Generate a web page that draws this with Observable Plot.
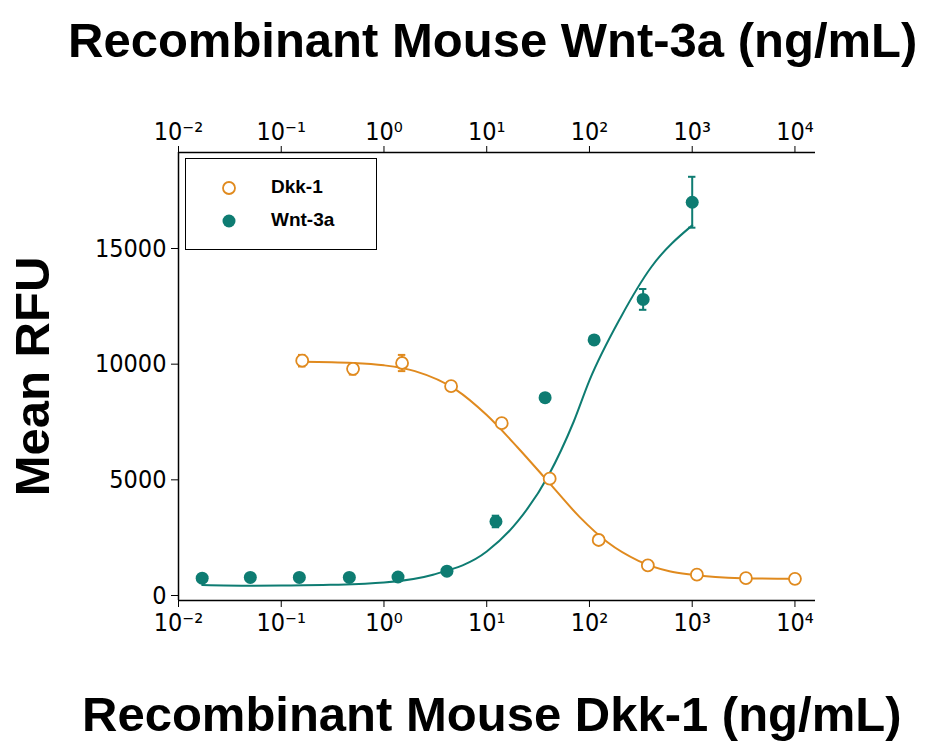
<!DOCTYPE html>
<html><head><meta charset="utf-8">
<script src="https://cdn.jsdelivr.net/npm/d3@7"></script>
<script src="https://cdn.jsdelivr.net/npm/@observablehq/plot@0.6"></script>
<style>
body{margin:0;background:#fff;}
#wrap{position:relative;width:936px;height:749px;font-family:"Liberation Sans",Arial,sans-serif;overflow:hidden;}
.t{position:absolute;font-weight:bold;font-size:49px;color:#000;white-space:nowrap;line-height:1;}
#legend{position:absolute;left:185px;top:158px;width:190px;height:90px;border:1px solid #000;background:#fff;font-weight:bold;font-size:19px;}
#legend div{position:absolute;left:85px;}
</style></head><body>
<div id="wrap">
<div id="chart"></div>
<div class="t" style="left:68px;top:16px;">Recombinant Mouse Wnt-3a (ng/mL)</div>
<div class="t" style="left:82px;top:690px;">Recombinant Mouse Dkk-1 (ng/mL)</div>
<div class="t" style="left:-87px;top:352px;transform:rotate(-90deg);">Mean RFU</div>
<div id="legend">
<svg width="60" height="90" style="position:absolute;left:0;top:0"><circle cx="43" cy="29" r="6" fill="#fff" stroke="#E08A1E" stroke-width="1.8"/><circle cx="43" cy="62" r="6.5" fill="#0E7C72"/></svg>
<div style="top:17px">Dkk-1</div><div style="top:50px">Wnt-3a</div>
</div>
</div>
<script>
const dkkX = [0.16,0.5,1.5,4.5,14,41,123,370,1111,3333,10000];
const dkkY = [10150,9800,10050,9050,7450,5050,2400,1300,900,750,720];
const dkkErr = [250,250,350,150,100,120,100,80,60,50,50];
const wntX = [0.017,0.05,0.15,0.46,1.37,4.1,12.3,37,111,333,1000];
const wntY = [750,780,780,780,800,1050,3200,8550,11050,12800,17000];
const wntErr = [80,80,80,80,80,100,250,150,150,450,1100];
const dkkCurveX = [0.16,0.5,1,2,5,10,20,40,80,150,300,600,1000,3000,10000];
const dkkCurveY = [10100,10050,9950,9700,8900,7800,6400,4900,3400,2300,1500,1050,900,750,720];
const wntCurveX = [0.017,0.05,0.1,0.3,1,3,10,20,40,70,100,200,400,1000];
const wntCurveY = [450,420,430,460,560,900,1900,3200,5200,7500,9300,12000,14200,16000];
const xTicks = [0.01,0.1,1,10,100,1000,10000];
const tickLabels = ["10⁻²","10⁻¹","10⁰","10¹","10²","10³","10⁴"];
const yTicks = [0,5000,10000,15000];

const orange="#E08A1E", teal="#0E7C72";
const dkk = dkkX.map((x,i)=>({x,y:dkkY[i],e:dkkErr[i]}));
const wnt = wntX.map((x,i)=>({x,y:wntY[i],e:wntErr[i]}));
const dc = dkkCurveX.map((x,i)=>({x,y:dkkCurveY[i]}));
const wc = wntCurveX.map((x,i)=>({x,y:wntCurveY[i]}));
const caps = arr => arr.flatMap(d=>[{x1:d.x*0.92,x2:d.x/0.92,y:d.y-d.e},{x1:d.x*0.92,x2:d.x/0.92,y:d.y+d.e}]);
const fmt = d => tickLabels[xTicks.indexOf(d)];
const chart = Plot.plot({
  width:936,height:749,
  marginLeft:178,marginRight:121,marginTop:152,marginBottom:149,
  x:{type:"log",domain:[0.01,10**4.2]},
  y:{domain:[-216,19150]},
  style:{fontFamily:"'Liberation Sans Narrow','DejaVu Sans Condensed',sans-serif",fontSize:"25px",color:"#000"},
  marks:[
    Plot.axisX(xTicks,{anchor:"bottom",tickFormat:fmt,tickSize:7,tickPadding:6,label:null,fontSize:25}),
    Plot.axisX(xTicks,{anchor:"top",tickFormat:fmt,tickSize:7,tickPadding:6,label:null,fontSize:25}),
    Plot.axisY(yTicks,{anchor:"left",tickSize:7,tickPadding:5,tickFormat:d=>String(d),label:null,fontSize:25}),
    Plot.ruleY([-216],{stroke:"#000",strokeWidth:1.5}),
    Plot.ruleY([19150],{stroke:"#000",strokeWidth:1.5}),
    Plot.ruleX([0.01],{stroke:"#000",strokeWidth:1.5}),
    Plot.line(dc,{x:"x",y:"y",stroke:orange,strokeWidth:2,curve:"monotone-x"}),
    Plot.line(wc,{x:"x",y:"y",stroke:teal,strokeWidth:2,curve:"monotone-x"}),
    Plot.ruleX(dkk,{x:"x",y1:d=>d.y-d.e,y2:d=>d.y+d.e,stroke:orange,strokeWidth:2}),
    Plot.ruleY(caps(dkk),{x1:"x1",x2:"x2",y:"y",stroke:orange,strokeWidth:2}),
    Plot.ruleX(wnt,{x:"x",y1:d=>d.y-d.e,y2:d=>d.y+d.e,stroke:teal,strokeWidth:2}),
    Plot.ruleY(caps(wnt),{x1:"x1",x2:"x2",y:"y",stroke:teal,strokeWidth:2}),
    Plot.dot(dkk,{x:"x",y:"y",r:6,fill:"#fff",stroke:orange,strokeWidth:1.8}),
    Plot.dot(wnt,{x:"x",y:"y",r:6.5,fill:teal})
  ]
});
document.getElementById("chart").appendChild(chart);
</script>
</body></html>
